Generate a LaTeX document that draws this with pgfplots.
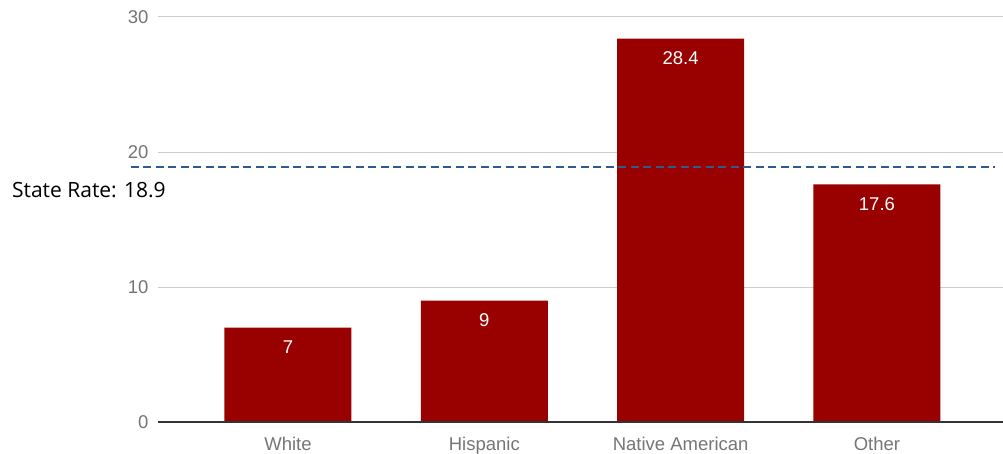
\documentclass[border=0pt]{standalone}
\usepackage{fontspec}
\setmainfont{Liberation Sans}
\newfontfamily\osans{Open Sans}
\usepackage{pgfplots}
\pgfplotsset{compat=1.18}
\definecolor{barred}{HTML}{990000}
\definecolor{gridgray}{HTML}{CCCCCC}
\definecolor{basegray}{HTML}{333333}
\definecolor{labelgray}{HTML}{757575}
\definecolor{dashblue}{HTML}{2F5A8C}
\begin{document}
\begin{tikzpicture}
\begin{axis}[
  at={(158pt,31pt)}, anchor=south west,
  scale only axis, width=845pt, height=405pt,
  xmin=-0.662, xmax=3.642, ymin=0, ymax=30,
  ytick={0,10,20,30}, xtick={0,1,2,3},
  xticklabels={White,Hispanic,Native American,Other},
  ymajorgrids, grid style={color=gridgray, line width=1pt},
  axis line style={draw=none},
  major tick length=0pt,
  /pgf/number format/assume math mode=true,
  tick label style={font=\fontsize{18.5}{20}\selectfont, text=labelgray},
  yticklabel style={xshift=-6pt},
  xticklabel style={yshift=-12pt},
  clip=false,
]
\addplot[ybar, bar width=127pt, fill=barred, draw=none,
  nodes near coords,
  every node near coord/.append style={anchor=center, yshift=-20pt, text=white, font=\fontsize{18.5}{20}\selectfont},
] coordinates {(0,7) (1,9) (2,28.4) (3,17.6)};
\draw[color=basegray, line width=1.5pt] (axis cs:-0.662,0) -- (axis cs:3.642,0);
\addplot[color=dashblue, line width=1.6pt, dash pattern=on 8pt off 4.5pt, forget plot] coordinates {(-0.80,18.9) (3.60,18.9)};
\node[anchor=west, inner sep=0pt, font=\osans\fontsize{21}{24}\selectfont] at (axis cs:-1.406,17.19) {State Rate: 18.9};
\end{axis}
\pgfresetboundingbox
\path[use as bounding box] (0,0) rectangle (1003pt,453pt);
\end{tikzpicture}
\end{document}
